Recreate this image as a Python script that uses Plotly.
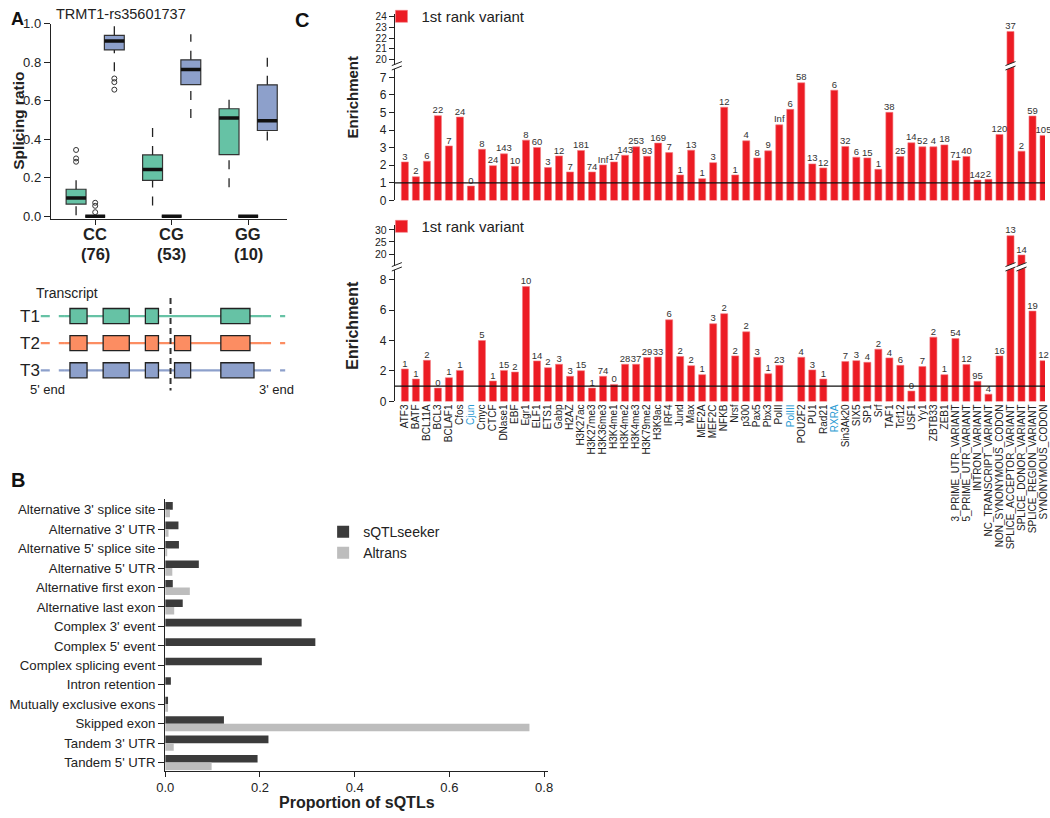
import plotly.graph_objects as go

W, H = 1050, 818
FONT = "Liberation Sans, Arial, Helvetica, sans-serif"
TXT = "#222222"

# The photographed page is shrunk slightly with a small border; positions below are
# given in picture pixels and mapped back to page fractions.
SX, OX, SY, OY = 0.981, 10.4, 0.978, 7.5


def px(x):
    return max(0.0, min(1.0, (x - OX) / SX / W))


def py(y):
    return max(0.0, min(1.0, 1 - (y - OY) / SY / H))


# ---------------- Panel A: splicing ratio boxplots ----------------
GENOTYPES = ["CC", "CG", "GG"]
GENOTYPE_N = [76, 53, 10]

T1_LO = [0.005, 0.056, 0.15]
T1_Q1 = [0.063, 0.186, 0.32]
T1_MED = [0.095, 0.242, 0.51]
T1_Q3 = [0.14, 0.318, 0.558]
T1_HI = [0.23, 0.497, 0.61]
T1_OUTLIERS = [[0.283, 0.30, 0.344], [], []]

T2_LO = [0.0, 0.0, 0.0]
T2_Q1 = [0.0, 0.0, 0.0]
T2_MED = [0.0, 0.0, 0.0]
T2_Q3 = [0.0, 0.0, 0.0]
T2_HI = [0.0, 0.0, 0.0]
T2_OUTLIERS = [[0.021, 0.054, 0.07], [], []]

T3_LO = [0.753, 0.51, 0.393]
T3_Q1 = [0.863, 0.683, 0.445]
T3_MED = [0.91, 0.762, 0.496]
T3_Q3 = [0.939, 0.812, 0.682]
T3_HI = [1.0, 0.944, 0.852]
T3_OUTLIERS = [[0.657, 0.696, 0.715], [], []]

# transcript schematic (gene coordinates, arbitrary units)
TRANSCRIPTS = ["T1", "T2", "T3"]
TRANSCRIPT_EXONS = [
    [(71, 88), (104, 130), (146, 159), (221, 250)],
    [(71, 88), (104, 130), (146, 159), (175, 191), (221, 250)],
    [(71, 88), (104, 130), (146, 159), (175, 191), (221, 254)],
]
GENE_SPAN = (42, 285)
SOLID_SPAN = (66, 262)
VARIANT_POS = 171

# ---------------- Panel B: proportion of sQTLs ----------------
EVENTS = [
    "Alternative 3' splice site", "Alternative 3' UTR", "Alternative 5' splice site",
    "Alternative 5' UTR", "Alternative first exon", "Alternative last exon",
    "Complex 3' event", "Complex 5' event", "Complex splicing event",
    "Intron retention", "Mutually exclusive exons", "Skipped exon",
    "Tandem 3' UTR", "Tandem 5' UTR",
]
SQTLSEEKER = [0.016, 0.028, 0.029, 0.071, 0.016, 0.037, 0.288, 0.317, 0.204,
              0.012, 0.006, 0.124, 0.218, 0.195]
ALTRANS = [0.010, 0.007, 0.004, 0.015, 0.052, 0.019, 0.0, 0.0, 0.0,
           0.0, 0.006, 0.769, 0.018, 0.098]

# ---------------- Panel C: enrichment ----------------
FEATURES = [
    "ATF3", "BATF", "BCL11A", "BCL3", "BCLAF1", "Cfos", "Cjun", "Cmyc", "CTCF",
    "DNase1", "EBF", "Egr1", "ELF1", "ETS1", "Gabp", "H2AZ", "H3K27ac",
    "H3K27me3", "H3K36me3", "H3K4me1", "H3K4me2", "H3K4me3", "H3K79me2",
    "H3K9ac", "IRF4", "Jund", "Max", "MEF2A", "MEF2C", "NFKB", "Nrsf", "p300",
    "Pax5", "Pbx3", "PolII", "PolIII", "POU2F2", "PU1", "Rad21", "RXRA",
    "Sin3Ak20", "SIX5", "SP1", "Srf", "TAF1", "Tcf12", "USF1", "Yy1", "ZBTB33",
    "ZEB1", "3_PRIME_UTR_VARIANT", "5_PRIME_UTR_VARIANT", "INTRON_VARIANT",
    "NC_TRANSCRIPT_VARIANT", "NON_SYNONYMOUS_CODON", "SPLICE_ACCEPTOR_VARIANT",
    "SPLICE_DONOR_VARIANT", "SPLICE_REGION_VARIANT", "SYNONYMOUS_CODON",
]
HIGHLIGHT_FEATURES = ["Cjun", "PolIII", "RXRA"]

TOP_ENRICH = [2.19, 1.35, 2.23, 4.82, 3.10, 4.74, 0.82, 2.91, 1.98, 2.65,
              1.94, 3.43, 3.01, 1.87, 2.53, 1.62, 2.84, 1.62, 2.02, 2.19,
              2.57, 3.05, 2.51, 3.26, 2.72, 1.45, 2.86, 1.24, 2.15, 5.30,
              1.45, 3.39, 2.42, 2.82, 4.30, 5.18, 6.69, 2.08, 1.85, 6.27,
              3.07, 2.46, 2.42, 1.77, 5.01, 2.50, 3.28, 3.05, 3.05, 3.16,
              2.27, 2.50, 1.16, 1.20, 3.75, 22.6, 2.80, 4.80, 3.70]
TOP_COUNTS = ["3", "2", "6", "22", "7", "24", "0", "8", "24", "143",
              "10", "8", "60", "3", "12", "7", "181", "74", "Inf", "17",
              "143", "253", "93", "169", "7", "1", "13", "1", "3", "12",
              "1", "4", "8", "9", "Inf", "6", "58", "13", "12", "6",
              "32", "6", "15", "1", "38", "25", "14", "52", "4", "18",
              "71", "40", "142", "2", "120", "37", "2", "59", "105"]

BOTTOM_ENRICH = [2.13, 1.47, 2.70, 0.88, 1.56, 2.04, None, 4.00, 1.34, 2.04,
                 1.93, 7.54, 2.66, 2.22, 2.44, 1.65, 2.02, 0.88, 1.65, 1.12,
                 2.44, 2.44, 2.88, 2.92, 5.36, 2.95, 2.35, 1.76, 5.10, 5.76,
                 2.99, 4.57, 2.90, 1.82, 2.37, None, 2.90, 2.07, 1.47, None,
                 2.62, 2.68, 2.57, 3.43, 2.86, 2.37, 0.68, 2.29, 4.22, 1.76,
                 4.13, 2.42, 1.32, 0.48, 2.99, 27.6, 19.6, 5.93, 2.68]
BOTTOM_COUNTS = ["1", "1", "2", "0", "1", "1", "", "5", "1", "15",
                 "2", "10", "14", "2", "3", "3", "15", "1", "74", "0",
                 "28", "37", "29", "33", "6", "2", "2", "1", "3", "2",
                 "2", "2", "3", "1", "23", "", "4", "3", "1", "",
                 "7", "3", "4", "2", "4", "6", "0", "7", "2", "1",
                 "54", "12", "95", "4", "16", "13", "14", "19", "12"]

# ---------------- styles ----------------
COL_T1, COL_T2, COL_T3 = "#66c2a5", "#fc8d62", "#8da0cb"
COL_DARK, COL_LIGHT = "#3b3b3b", "#bdbdbd"
COL_RED, COL_RED_EDGE = "#ec1c24", "#f47a80"
COL_BLUE_LABEL = "#2b9bd3"
BOX_W = 0.26

fig = go.Figure()

# ---- Panel A boxes ----
box_sets = [
    (T1_LO, T1_Q1, T1_MED, T1_Q3, T1_HI, T1_OUTLIERS, COL_T1, -0.25),
    (T2_LO, T2_Q1, T2_MED, T2_Q3, T2_HI, T2_OUTLIERS, COL_T2, 0.0),
    (T3_LO, T3_Q1, T3_MED, T3_Q3, T3_HI, T3_OUTLIERS, COL_T3, 0.25),
]
for lo, q1, med, q3, hi, outl, col, off in box_sets:
    pos = [i + 1 + off for i in range(len(GENOTYPES))]
    fig.add_trace(go.Box(
        x=pos, q1=q1, median=med, q3=q3, lowerfence=q1, upperfence=q3,
        width=BOX_W, fillcolor=col, line=dict(color="#333333", width=1.2),
        boxpoints=False, xaxis="x", yaxis="y", showlegend=False, hoverinfo="skip"))
    wx, wy = [], []
    for p, a, b, c, d in zip(pos, lo, q1, q3, hi):
        if d > c:
            wx += [p, p, None]
            wy += [c, d, None]
        if a < b:
            wx += [p, p, None]
            wy += [a, b, None]
    if wx:
        fig.add_trace(go.Scatter(x=wx, y=wy, mode="lines",
                                 line=dict(color="#222222", width=1.3, dash="dash"),
                                 xaxis="x", yaxis="y", showlegend=False, hoverinfo="skip"))
    mx, my = [], []
    for p, m in zip(pos, med):
        mx += [p - BOX_W / 2, p + BOX_W / 2, None]
        my += [m, m, None]
    fig.add_trace(go.Scatter(x=mx, y=my, mode="lines",
                             line=dict(color="#111111", width=3.5),
                             xaxis="x", yaxis="y", showlegend=False, hoverinfo="skip"))
    ox, oy = [], []
    for p, vals in zip(pos, outl):
        for v in vals:
            ox.append(p)
            oy.append(v)
    if ox:
        fig.add_trace(go.Scatter(x=ox, y=oy, mode="markers",
                                 marker=dict(symbol="circle-open", size=5,
                                             color="#333333", line=dict(width=1)),
                                 xaxis="x", yaxis="y", showlegend=False, hoverinfo="skip"))

# ---- Transcript schematic (own axes x5 / y7) ----
shapes = []
annotations = []
TRACK_Y0, TRACK_DY = 315, 27
track_cols = [COL_T1, COL_T2, COL_T3]
for i, (name, exons) in enumerate(zip(TRANSCRIPTS, TRANSCRIPT_EXONS)):
    yy = TRACK_Y0 + i * TRACK_DY
    col = track_cols[i]
    fig.add_trace(go.Scatter(x=[SOLID_SPAN[0], SOLID_SPAN[1]], y=[yy, yy], mode="lines",
                             line=dict(color=col, width=2.2), xaxis="x5", yaxis="y7",
                             showlegend=False, hoverinfo="skip"))
    fig.add_trace(go.Scatter(x=[GENE_SPAN[0], SOLID_SPAN[0], None, SOLID_SPAN[1], GENE_SPAN[1]],
                             y=[yy, yy, None, yy, yy], mode="lines",
                             line=dict(color=col, width=2.2, dash="dash"), xaxis="x5",
                             yaxis="y7", showlegend=False, hoverinfo="skip"))
    for (s, e) in exons:
        shapes.append(dict(type="rect", xref="x5", yref="y7", x0=s, x1=e,
                           y0=yy - 7.5, y1=yy + 7.5, fillcolor=col,
                           line=dict(color="#222222", width=1.3), layer="above"))
    annotations.append(dict(xref="x5", yref="y7", x=31, y=yy, text=name, showarrow=False,
                            font=dict(size=17, color=TXT), xanchor="center", yanchor="middle"))
shapes.append(dict(type="line", xref="x5", yref="y7", x0=VARIANT_POS, x1=VARIANT_POS,
                   y0=297, y1=389, line=dict(color="#333333", width=2, dash="6px,4px"),
                   layer="above"))
annotations += [
    dict(xref="x5", yref="y7", x=35, y=292, text="Transcript", showarrow=False,
         font=dict(size=14, color=TXT), xanchor="left", yanchor="middle"),
    dict(xref="x5", yref="y7", x=GENE_SPAN[0] + 7, y=388, text="5' end", showarrow=False,
         font=dict(size=13, color=TXT), xanchor="center", yanchor="middle"),
    dict(xref="x5", yref="y7", x=GENE_SPAN[1] - 9, y=388, text="3' end", showarrow=False,
         font=dict(size=13, color=TXT), xanchor="center", yanchor="middle"),
]

# ---- Panel B bars ----
fig.add_trace(go.Bar(y=EVENTS, x=SQTLSEEKER, orientation="h", name="sQTLseeker",
                     marker=dict(color=COL_DARK, line=dict(width=0)), width=0.39,
                     offset=-0.39, xaxis="x2", yaxis="y2", legend="legend",
                     legendgroup="s", hoverinfo="skip"))
fig.add_trace(go.Bar(y=EVENTS, x=ALTRANS, orientation="h", name="Altrans",
                     marker=dict(color=COL_LIGHT, line=dict(width=0)), width=0.39,
                     offset=0.0, xaxis="x2", yaxis="y2", legend="legend",
                     legendgroup="a", hoverinfo="skip"))

# ---- Panel C ----
C_X0PX = 394
C_X1PX = SX * W + OX          # right edge of the page in picture pixels
BAR0_PX, BAR_STEP = 404.0, 10.948
XR = [(C_X0PX - BAR0_PX) / BAR_STEP, (C_X1PX - BAR0_PX) / BAR_STEP]


def cat_px(idx):
    return C_X0PX + (idx - XR[0]) / (XR[1] - XR[0]) * (C_X1PX - C_X0PX)


TOP_LOW_RANGE = [0, (200 - 66) / 17.5]
TOP_UP_RANGE = [20 - (66 - 60) / 10.83, 24 + (16.7 - 14) / 10.83]
BOT_LOW_RANGE = [0, (400 - 268) / 15.16]
BOT_UP_RANGE = [20 - (268 - 253.3) / 2.4, 30 + (229.3 - 224) / 2.4]

panels = [
    (TOP_ENRICH, TOP_COUNTS, "x3", "y3", "y4", TOP_LOW_RANGE, "legend2"),
    (BOTTOM_ENRICH, BOTTOM_COUNTS, "x4", "y5", "y6", BOT_LOW_RANGE, "legend3"),
]
for vals, counts, xa, ylo, yup, lrange, leg in panels:
    for ya, show in ((ylo, True), (yup, False)):
        fig.add_trace(go.Bar(x=FEATURES, y=vals, width=0.64, name="1st rank variant",
                             marker=dict(color=COL_RED, line=dict(color=COL_RED_EDGE, width=0.6)),
                             xaxis=xa, yaxis=ya, legend=leg, showlegend=show,
                             hoverinfo="skip"))
    lx, ly, lt, ux, uy, ut = [], [], [], [], [], []
    for f, v, c in zip(FEATURES, vals, counts):
        if v is None:
            continue
        if v <= lrange[1]:
            lx.append(f); ly.append(v); lt.append(c)
        else:
            ux.append(f); uy.append(v); ut.append(c)
    for xs, ys, ts, ya in ((lx, ly, lt, ylo), (ux, uy, ut, yup)):
        fig.add_trace(go.Scatter(x=xs, y=ys, text=ts, mode="text", textposition="top center",
                                 textfont=dict(size=9.5, color="#333333", family=FONT),
                                 cliponaxis=False, xaxis=xa, yaxis=ya, showlegend=False,
                                 hoverinfo="skip"))
    shapes.append(dict(type="line", xref=xa + " domain", x0=0, x1=1, yref=ylo, y0=1, y1=1,
                       line=dict(color="#111111", width=1.3), layer="above"))


def break_mark(cx, cy, w=10, gap=2.2, rise=4.0):
    ux0, uy0 = cx - w / 2, cy - gap + rise / 2
    ux1, uy1 = cx + w / 2, cy - gap - rise / 2
    lx0, ly0 = cx - w / 2, cy + gap + rise / 2
    lx1, ly1 = cx + w / 2, cy + gap - rise / 2
    path = "M{},{} L{},{} L{},{} L{},{} Z".format(px(ux0), py(uy0), px(ux1), py(uy1),
                                                   px(lx1), py(ly1), px(lx0), py(ly0))
    out = [dict(type="path", path=path, xref="paper", yref="paper", fillcolor="white",
                line=dict(width=0), layer="above")]
    for a, b, c, d in ((ux0, uy0, ux1, uy1), (lx0, ly0, lx1, ly1)):
        out.append(dict(type="line", xref="paper", yref="paper", x0=px(a), y0=py(b),
                        x1=px(c), y1=py(d), line=dict(color="#222222", width=1),
                        layer="above"))
    return out


for vals, lrange, brk_y in ((TOP_ENRICH, TOP_LOW_RANGE, 66), (BOTTOM_ENRICH, BOT_LOW_RANGE, 266)):
    shapes += break_mark(C_X0PX + 2, brk_y, w=10)
    for i, v in enumerate(vals):
        if v is not None and v > lrange[1]:
            shapes += break_mark(cat_px(i), brk_y, w=10)

# ---- Text annotations ----
annotations += [
    dict(x=0, y=1, xanchor="left", yanchor="top", text="<b>A</b>",
         font=dict(size=18, color="#111111")),
    dict(x=0, y=py(478), xanchor="left", text="<b>B</b>",
         font=dict(size=20, color="#111111")),
    dict(x=px(302), y=1, yanchor="top", text="<b>C</b>",
         font=dict(size=20, color="#111111")),
    dict(x=px(55), y=py(14), text="TRMT1-rs35601737", xanchor="left",
         font=dict(size=14.5, color=TXT)),
    dict(x=px(19), y=py(121), text="<b>Splicing ratio</b>", textangle=-90,
         font=dict(size=15.5, color=TXT)),
    dict(x=px(356), y=py(799), text="<b>Proportion of sQTLs</b>",
         font=dict(size=16, color=TXT)),
    dict(x=px(352), y=py(97), text="<b>Enrichment</b>", textangle=-90,
         font=dict(size=15, color=TXT)),
    dict(x=px(352), y=py(324), text="<b>Enrichment</b>", textangle=-90,
         font=dict(size=16, color=TXT)),
]
for i, (g, n) in enumerate(zip(GENOTYPES, GENOTYPE_N)):
    annotations.append(dict(xref="x", x=i + 1, y=py(233), text="<b>%s</b>" % g,
                            font=dict(size=16.5, color=TXT)))
    annotations.append(dict(xref="x", x=i + 1, y=py(253), text="<b>(%d)</b>" % n,
                            font=dict(size=16.5, color=TXT)))
for a in annotations:
    a.setdefault("xref", "paper")
    a.setdefault("yref", "paper")
    a.setdefault("showarrow", False)
    a.setdefault("xanchor", "center")
    a.setdefault("yanchor", "middle")

# ---- axes ----
axis_common = dict(showgrid=False, zeroline=False, linecolor="#222222", linewidth=1.2,
                   tickcolor="#222222", tickfont=dict(size=12, color=TXT, family=FONT))

feature_ticktext = [
    '<span style="color:%s">%s</span>' % (COL_BLUE_LABEL, f) if f in HIGHLIGHT_FEATURES else f
    for f in FEATURES
]

fig.update_layout(
    width=W, height=H,
    margin=dict(l=0, r=0, t=0, b=0),
    paper_bgcolor="white", plot_bgcolor="white",
    font=dict(family=FONT, color=TXT),
    barmode="overlay",
    shapes=shapes,
    annotations=annotations,
    legend=dict(x=px(360) - 38 / W, y=py(514), xanchor="left", yanchor="top",
                font=dict(size=14, color=TXT), bgcolor="rgba(0,0,0,0)",
                traceorder="normal", itemwidth=30, tracegroupgap=6),
    legend2=dict(x=px(418) - 38 / W, y=py(17), xanchor="left", yanchor="middle",
                 font=dict(size=15, color=TXT), bgcolor="rgba(0,0,0,0)", itemwidth=30),
    legend3=dict(x=px(418) - 38 / W, y=py(226), xanchor="left", yanchor="middle",
                 font=dict(size=15, color=TXT), bgcolor="rgba(0,0,0,0)", itemwidth=30),
    # Panel A
    xaxis=dict(axis_common, domain=[px(52), px(287)], range=[0.42, 3.51], anchor="y",
               showline=True, ticks="outside", ticklen=5, tickvals=[1, 2, 3],
               showticklabels=False),
    yaxis=dict(axis_common, domain=[py(218), py(24)], range=[-0.012, 1.0], anchor="x",
               showline=True, ticks="outside", ticklen=6,
               tickvals=[0, 0.2, 0.4, 0.6, 0.8, 1.0], tickformat=".1f",
               tickfont=dict(size=13, color=TXT, family=FONT)),
    # Panel B
    xaxis2=dict(axis_common, domain=[px(165.7), px(546.7)], range=[0, 0.809], anchor="y2",
                showline=True, ticks="outside", ticklen=5,
                tickvals=[0, 0.2, 0.4, 0.6, 0.8], tickformat=".1f",
                tickfont=dict(size=13, color=TXT, family=FONT)),
    yaxis2=dict(axis_common, domain=[py(767.3), py(497)], range=[13.41, -0.553],
                anchor="x2", showline=True, ticks="outside", ticklen=6, type="category",
                categoryorder="array", categoryarray=EVENTS,
                tickfont=dict(size=13.2, color=TXT, family=FONT)),
    # Panel C top
    xaxis3=dict(axis_common, domain=[px(C_X0PX), 1], range=XR, anchor="y3",
                type="category", categoryorder="array", categoryarray=FEATURES,
                showline=False, showticklabels=False, ticks=""),
    yaxis3=dict(axis_common, domain=[py(200), py(66)], range=TOP_LOW_RANGE, anchor="x3",
                showline=True, ticks="outside", ticklen=5, tickvals=list(range(0, 8))),
    yaxis4=dict(axis_common, domain=[py(66), py(14)], range=TOP_UP_RANGE, anchor="x3",
                showline=True, ticks="outside", ticklen=5, tickvals=list(range(20, 25)),
                tickfont=dict(size=10, color=TXT, family=FONT)),
    # Panel C bottom
    xaxis4=dict(axis_common, domain=[px(C_X0PX), 1], range=XR, anchor="y5",
                type="category", categoryorder="array", categoryarray=FEATURES,
                tickvals=FEATURES, ticktext=feature_ticktext, tickangle=-90,
                showline=False, ticks="", tickfont=dict(size=10, color=TXT, family=FONT)),
    yaxis5=dict(axis_common, domain=[py(400), py(268)], range=BOT_LOW_RANGE, anchor="x4",
                showline=True, ticks="outside", ticklen=5, tickvals=[0, 2, 4, 6, 8]),
    yaxis6=dict(axis_common, domain=[py(268), py(224)], range=BOT_UP_RANGE, anchor="x4",
                showline=True, ticks="outside", ticklen=5, tickvals=[20, 25, 30],
                tickfont=dict(size=10.5, color=TXT, family=FONT)),
    # transcript schematic
    xaxis5=dict(domain=[px(12), px(300)], range=[12, 300], visible=False, anchor="y7"),
    yaxis7=dict(domain=[py(400), py(280)], range=[400, 280], visible=False, anchor="x5"),
)

fig.write_html(
    "out.html",
    config={"displayModeBar": False},
    post_script="document.body.style.margin='0';document.body.style.overflow='hidden';",
)
